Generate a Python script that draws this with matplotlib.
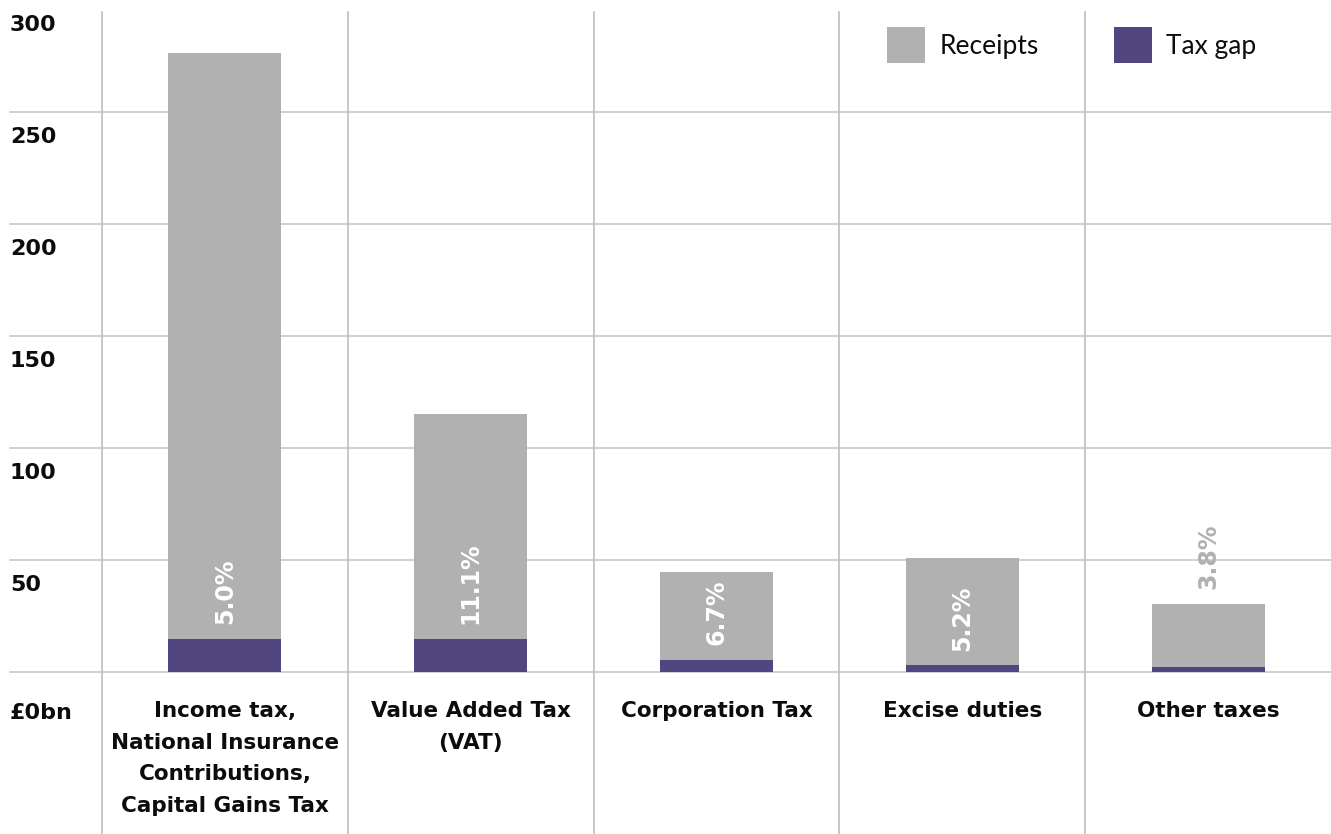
import matplotlib.pyplot as plt

GREY = "#b1b1b1"
PURPLE = "#51467f"
GRID = "#c8c8c8"
VGRID = "#bdbdbd"
INK = "#0b0c0c"

categories = [
    "Income tax,\nNational Insurance\nContributions,\nCapital Gains Tax",
    "Value Added Tax\n(VAT)",
    "Corporation Tax",
    "Excise duties",
    "Other taxes",
]
tax_gap = [14.7, 14.7, 5.5, 3.0, 2.2]
receipts = [261.6, 100.5, 39.1, 47.9, 28.2]
gap_share = ["5.0%", "11.1%", "6.7%", "5.2%", "3.8%"]
y_values = [0, 50, 100, 150, 200, 250, 300]
y_labels = ["£0bn", "50", "100", "150", "200", "250", "300"]

W, H = 1331, 834
fig = plt.figure(figsize=(W / 100, H / 100), dpi=100)
ax = fig.add_axes([102 / W, 162 / H, 1229 / W, 672 / H])
ax.set_xlim(-0.5, 4.5)
ax.set_ylim(0, 300)
ax.axis("off")

x = range(len(categories))
gap_bars = ax.bar(x, tax_gap, width=0.46, color=PURPLE, label="Tax gap", zorder=3)
rec_bars = ax.bar(x, receipts, width=0.46, bottom=tax_gap, color=GREY,
                  label="Receipts", zorder=3)

# horizontal grid, running out under the y labels
left = -92 / 1229
for v in y_values[:-1]:
    ax.axhline(v, xmin=left, xmax=1, color=GRID, lw=1.2, clip_on=False, zorder=1)

# category separators, down through the label area
for i in range(len(categories)):
    ax.axvline(i - 0.5, ymin=-162 / 672, ymax=660 / 672, color=VGRID, lw=1.2,
               clip_on=False, zorder=1)

# y labels sit just under their grid line
for v, lab in zip(y_values, y_labels):
    dy = -22 if v == 0 else -11
    ax.annotate(lab, xy=(left, v), xycoords=("axes fraction", "data"),
                xytext=(0, dy), textcoords="offset points",
                ha="left", va="top", fontsize=16, fontweight="bold", color=INK)

# category names under the zero line
for i, name in enumerate(categories):
    ax.annotate(name, xy=(i, 0), xytext=(0, -21), textcoords="offset points",
                ha="center", va="top", fontsize=15.5, fontweight="bold",
                linespacing=1.72, color=INK)

# tax gap share, inside the grey bar when it fits
for i in x:
    if receipts[i] > 30:
        base, col = tax_gap[i], "white"
    else:
        base, col = tax_gap[i] + receipts[i], GREY
    ax.annotate(gap_share[i], xy=(i, base), xytext=(0, 10.5),
                textcoords="offset points", rotation=90,
                rotation_mode="anchor", ha="left", va="center",
                fontsize=17, fontweight="bold", color=col, zorder=4)

fs = 19
em = fs / 0.72
ax.legend(handles=[rec_bars, gap_bars], loc="upper left",
          bbox_to_anchor=(887 / W, 1 - 27 / H), bbox_transform=fig.transFigure,
          ncol=2, frameon=False, borderpad=0, borderaxespad=0,
          handlelength=38 / em, handleheight=1.75,
          handletextpad=0.55, columnspacing=2.85, labelcolor=INK,
          prop={"family": "Lato", "weight": "normal", "size": fs})

fig.savefig("out.png", dpi=100)
